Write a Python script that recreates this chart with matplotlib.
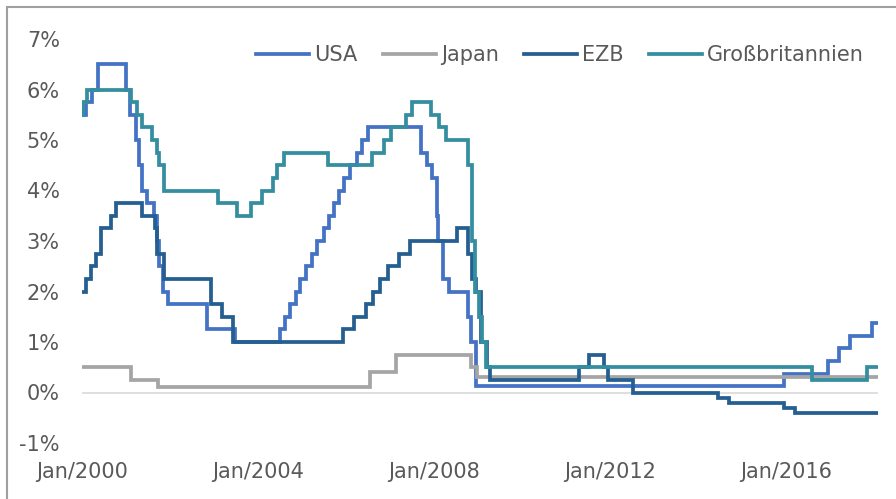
import matplotlib
matplotlib.use("Agg")
import matplotlib.pyplot as plt
import matplotlib.dates as mdates
from matplotlib.patches import Rectangle
import numpy as np

# Leitzinsen: Datum der Änderung -> neuer Satz (%)
usa_dates = ["2000-01-01", "2000-02-02", "2000-03-21", "2000-05-16", "2001-01-03", "2001-01-31",
             "2001-03-20", "2001-04-18", "2001-05-15", "2001-06-27", "2001-08-21", "2001-09-17",
             "2001-10-02", "2001-11-06", "2001-12-11", "2002-11-06", "2003-06-25", "2004-06-30",
             "2004-08-10", "2004-09-21", "2004-11-10", "2004-12-14", "2005-02-02", "2005-03-22",
             "2005-05-03", "2005-06-30", "2005-08-09", "2005-09-20", "2005-11-01", "2005-12-13",
             "2006-01-31", "2006-03-28", "2006-05-10", "2006-06-29", "2007-09-18", "2007-10-31",
             "2007-12-11", "2008-01-22", "2008-01-30", "2008-03-18", "2008-04-30", "2008-10-08",
             "2008-10-29", "2008-12-16", "2015-12-16", "2016-12-14", "2017-03-15", "2017-06-14",
             "2017-12-13"]
usa_vals = [5.5, 5.75, 6.0, 6.5, 6.0, 5.5,
            5.0, 4.5, 4.0, 3.75, 3.5, 3.0,
            2.5, 2.0, 1.75, 1.25, 1.0, 1.25,
            1.5, 1.75, 2.0, 2.25, 2.5, 2.75,
            3.0, 3.25, 3.5, 3.75, 4.0, 4.25,
            4.5, 4.75, 5.0, 5.25, 4.75, 4.5,
            4.25, 3.5, 3.0, 2.25, 2.0, 1.5,
            1.0, 0.125, 0.375, 0.625, 0.875, 1.125,
            1.375]

japan_dates = ["2000-01-01", "2001-02-13", "2001-09-19", "2006-07-14", "2007-02-21",
               "2008-10-31", "2008-12-19"]
japan_vals = [0.5, 0.25, 0.1, 0.4, 0.75, 0.5, 0.3]

ezb_dates = ["2000-01-01", "2000-02-04", "2000-03-17", "2000-04-28", "2000-06-09", "2000-09-01",
             "2000-10-06", "2001-05-11", "2001-08-31", "2001-09-18", "2001-11-09", "2002-12-06",
             "2003-03-07", "2003-06-06", "2005-12-06", "2006-03-08", "2006-06-15", "2006-08-09",
             "2006-10-11", "2006-12-13", "2007-03-14", "2007-06-13", "2008-07-09", "2008-10-08",
             "2008-11-12", "2008-12-10", "2009-01-21", "2009-03-11", "2009-04-08", "2011-04-13",
             "2011-07-13", "2011-11-09", "2011-12-14", "2012-07-11", "2014-06-11", "2014-09-10",
             "2015-12-09", "2016-03-16"]
ezb_vals = [2.0, 2.25, 2.5, 2.75, 3.25, 3.5,
            3.75, 3.5, 3.25, 2.75, 2.25, 1.75,
            1.5, 1.0, 1.25, 1.5, 1.75, 2.0,
            2.25, 2.5, 2.75, 3.0, 3.25, 2.75,
            2.25, 2.0, 1.0, 0.5, 0.25, 0.5,
            0.75, 0.5, 0.25, 0.0, -0.1, -0.2,
            -0.3, -0.4]

gb_dates = ["2000-01-01", "2000-01-13", "2000-02-10", "2001-02-08", "2001-04-05", "2001-05-10",
            "2001-08-02", "2001-09-18", "2001-10-04", "2001-11-08", "2003-02-06", "2003-07-10",
            "2003-11-06", "2004-02-05", "2004-05-06", "2004-06-10", "2004-08-05", "2005-08-04",
            "2006-08-03", "2006-11-09", "2007-01-11", "2007-05-10", "2007-07-05", "2007-12-06",
            "2008-02-07", "2008-04-10", "2008-10-08", "2008-11-06", "2008-12-04", "2009-01-08",
            "2009-02-05", "2009-03-05", "2016-08-04", "2017-11-02"]
gb_vals = [5.5, 5.75, 6.0, 5.75, 5.5, 5.25,
           5.0, 4.75, 4.5, 4.0, 3.75, 3.5,
           3.75, 4.0, 4.25, 4.5, 4.75, 4.5,
           4.75, 5.0, 5.25, 5.5, 5.75, 5.5,
           5.25, 5.0, 4.5, 3.0, 2.0, 1.5,
           1.0, 0.5, 0.25, 0.5]

end_date = "2018-01-31"

series = [
    ("USA", usa_dates, usa_vals, "#4472C4"),
    ("Japan", japan_dates, japan_vals, "#A5A5A5"),
    ("EZB", ezb_dates, ezb_vals, "#255E91"),
    ("Großbritannien", gb_dates, gb_vals, "#348EA0"),
]

plt.rcParams['font.family'] = ['DejaVu Sans']
txt = "#595959"

fig = plt.figure(figsize=(8.96, 4.99), dpi=100)
ax = fig.add_axes([82/896, 1-443/499, (878-82)/896, (443-39)/499])

for name, d, v, c in series:
    x = np.array(d + [end_date], dtype="datetime64[D]")
    y = v + [v[-1]]
    ax.step(x, y, where="post", color=c, lw=2.7, label=name,
            solid_joinstyle="miter", zorder=3)

ax.axhline(0, color="#D9D9D9", lw=1.2, zorder=1)

ax.set_xlim(np.datetime64("2000-01-01"), np.datetime64(end_date))
ax.set_ylim(-1, 7)
ax.set_yticks(range(-1, 8))
ax.set_yticklabels([f"{i}%" for i in range(-1, 8)])
ax.xaxis.set_major_locator(mdates.YearLocator(4))
ax.xaxis.set_major_formatter(mdates.DateFormatter("Jan/%Y"))
ax.tick_params(length=0, labelsize=15, colors=txt)
ax.tick_params(axis="y", pad=16)
ax.tick_params(axis="x", pad=14)
for s in ax.spines.values():
    s.set_visible(False)

fig.legend(loc="center right", bbox_to_anchor=(864/896, 1-55/499), ncol=4, frameon=False,
           fontsize=15, labelcolor=txt, handlelength=2.55, handletextpad=0.25,
           columnspacing=1.2, borderaxespad=0, borderpad=0)

fig.patches.append(Rectangle((7/896, -0.1), 1.2, 0.1 + 1 - 7/499, transform=fig.transFigure,
                             fill=False, ec="#A0A0A0", lw=1.5))

fig.savefig("out.png", dpi=100)
